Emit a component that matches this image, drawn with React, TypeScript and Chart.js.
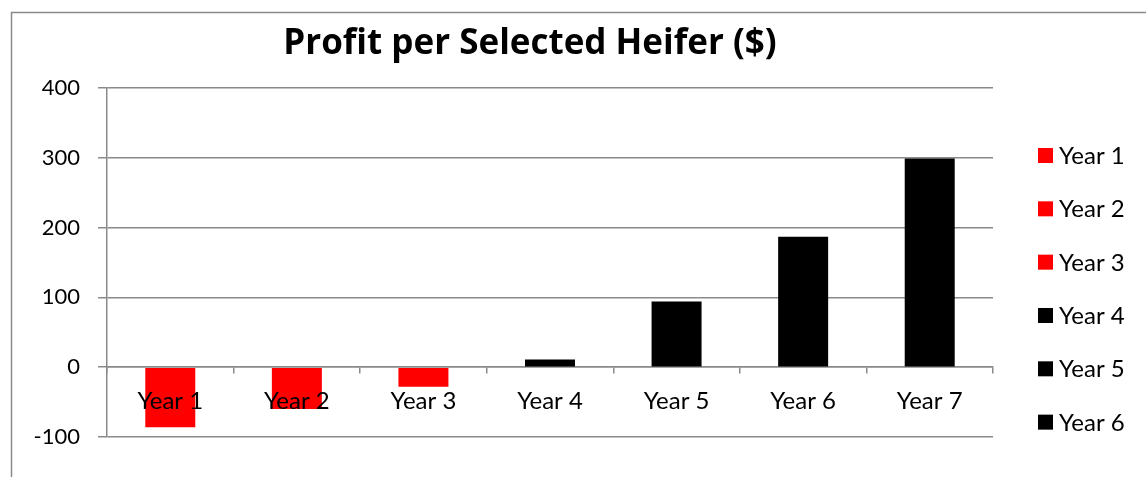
import React, { useEffect, useRef } from "react";
import { Chart, registerables } from "chart.js";

Chart.register(...registerables);

const titleText = "Profit per Selected Heifer ($)";
const categories = ["Year 1", "Year 2", "Year 3", "Year 4", "Year 5", "Year 6", "Year 7"];
const profits = [-86, -60, -28, 11, 94, 187, 299];
const legendLabels = ["Year 1", "Year 2", "Year 3", "Year 4", "Year 5", "Year 6"];
const yMin = -100;
const yMax = 400;
const yStep = 100;

const RED = "#ff0000";
const BLACK = "#000000";
const GRID = "#8a8a8a";
const FONT = "Lato, 'Open Sans', sans-serif";
const TITLE_FONT = "'Open Sans', Lato, sans-serif";

const barColors = profits.map((v) => (v < 0 ? RED : BLACK));

const decorPlugin = {
  id: "decor",
  beforeDraw(chart: any) {
    const ctx = chart.ctx;
    ctx.save();
    ctx.strokeStyle = GRID;
    ctx.lineWidth = 1.5;
    ctx.strokeRect(11.5, 12.5, 1400, 800);
    ctx.restore();
  },
  afterDraw(chart: any) {
    const ctx = chart.ctx;
    ctx.save();
    // title
    ctx.fillStyle = "#000";
    ctx.font = `bold 35px ${TITLE_FONT}`;
    ctx.textAlign = "center";
    ctx.textBaseline = "alphabetic";
    ctx.fillText(titleText, 530, 54);
    // legend
    ctx.font = `24px ${FONT}`;
    ctx.textAlign = "left";
    legendLabels.forEach((label, i) => {
      const top = 148 + i * 53.33;
      ctx.fillStyle = barColors[i];
      ctx.fillRect(1038, top, 15, 15);
      ctx.fillStyle = "#000";
      ctx.fillText(label, 1059, top + 16);
    });
    ctx.restore();
  },
};

export default function App() {
  const ref = useRef<HTMLCanvasElement | null>(null);
  useEffect(() => {
    document.body.style.margin = "0";
    const canvas = ref.current!;
    const chart = new Chart(canvas, {
      type: "bar",
      data: {
        labels: categories,
        datasets: [
          {
            label: "Profit",
            data: profits,
            backgroundColor: barColors,
            borderWidth: 0,
            categoryPercentage: 1,
            barPercentage: 0.395,
          },
        ],
      },
      plugins: [decorPlugin],
      options: {
        animation: false,
        responsive: false,
        layout: { padding: { top: 88, bottom: 40, left: 0, right: 153 } },
        plugins: {
          legend: { display: false },
          title: { display: false },
          tooltip: { enabled: false },
        },
        scales: {
          y: {
            min: yMin,
            max: yMax,
            afterFit(scale: any) {
              scale.width = 107;
            },
            ticks: {
              stepSize: yStep,
              color: "#000",
              font: { family: FONT, size: 22 },
              padding: 18,
            },
            grid: {
              color: GRID,
              lineWidth: 1.5,
              tickLength: 9,
              drawTicks: true,
            },
            border: { display: true, color: GRID, width: 1.5 },
          },
          x: {
            position: { y: 0 } as any,
            offset: true,
            ticks: {
              z: 1,
              color: "#000",
              font: { family: FONT, size: 24 },
              padding: 14,
              maxRotation: 0,
              autoSkip: false,
            },
            grid: {
              offset: true,
              drawOnChartArea: false,
              drawTicks: true,
              tickLength: 6,
              color: GRID,
              lineWidth: 1.5,
            },
            border: { display: true, color: GRID, width: 1.5 },
          },
        },
      },
    });
    return () => chart.destroy();
  }, []);
  return (
    <canvas
      ref={ref}
      width={1146}
      height={477}
      style={{ position: "absolute", left: 0, top: 0, width: 1146, height: 477 }}
    />
  );
}
